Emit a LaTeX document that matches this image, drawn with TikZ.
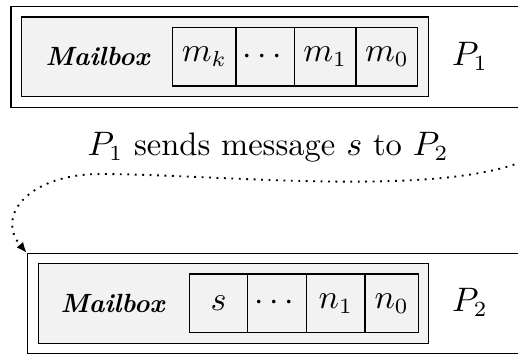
\documentclass[tikz,border=0pt]{standalone}
\usepackage{amsmath}
\usetikzlibrary{arrows.meta}

% one drawing unit
\newcommand{\unitlen}{0.3226pt}

\tikzset{
  procbox/.style={draw=black, fill=white, line width=0.4pt, inner sep=0pt, minimum height=#1*\unitlen},
  mailbox/.style={draw=black, fill=gray!10, line width=0.4pt, inner sep=0pt},
  slot/.style={draw=black, fill=gray!10, line width=0.4pt, inner sep=0pt, minimum height=58.7*\unitlen},
  wide/.style={minimum width=#1*\unitlen},
  tall/.style={minimum height=#1*\unitlen},
  boxlabel/.style={inner sep=0pt, font=\fontsize{8.5}{10}\selectfont},
  proclabel/.style={inner sep=0pt},
  msgarrow/.style={line width=0.6pt, dash pattern=on 0.6pt off 1.8pt,
                   -{Latex[length=3.4pt, width=2.8pt]}}
}
\newcommand{\mboxtitle}{\textbf{\textit{Mailbox}}}

\begin{document}
\begin{tikzpicture}[x=\unitlen, y=-\unitlen, font=\fontsize{10.5}{12.6}\selectfont]
  \useasboundingbox (0,0) rectangle (518,356);
  \clip (0,0) rectangle (518,356);

  % process P1 with its mailbox
  \node[procbox=100.6, wide=524] (proc1) at (273,57) {};
  \node[mailbox, wide=406.6, tall=79.3] (mbox1) at (225,56.7) {};
  \node[boxlabel] (mlabel1) at (98,56.7) {\mboxtitle};
  \node[slot, wide=63.3] (m1k) at (204.35,56.7) {$m_k$};
  \node[slot, wide=58.3] (m1dots) at (265.15,56.7) {$\cdots$};
  \node[slot, wide=61.7] (m1one) at (325.15,56.7) {$m_1$};
  \node[slot, wide=61.7] (m1zero) at (386.85,56.7) {$m_0$};
  \node[proclabel] (p1) at (470,56) {$P_1$};

  % the message
  \node[inner sep=0pt, anchor=base] (msg) at (268,155) {$P_1$ sends message $s$ to $P_2$};

  % process P2 with its mailbox
  \node[procbox=99.8, wide=507.7] (proc2) at (281.15,303.4) {};
  \node[mailbox, wide=390, tall=80] (mbox2) at (233.3,303.3) {};
  \node[boxlabel] (mlabel2) at (113,303.3) {\mboxtitle};
  \node[slot, wide=58.4] (n2s) at (218.5,303.35) {$s$};
  \node[slot, wide=59] (n2dots) at (277.2,303.35) {$\cdots$};
  \node[slot, wide=58.3] (n2one) at (335.85,303.35) {$n_1$};
  \node[slot, wide=53.3] (n2zero) at (391.65,303.35) {$n_0$};
  \node[proclabel] (p2) at (470,302.5) {$P_2$};

  % message path from P1 to the corner of P2
  \coordinate (from) at (535,156);
  \draw[msgarrow] (from) .. controls (450,200) and (220,174) .. (100,174)
                        .. controls (30,174) and (-5,215) .. (proc2.north west);
\end{tikzpicture}
\end{document}
